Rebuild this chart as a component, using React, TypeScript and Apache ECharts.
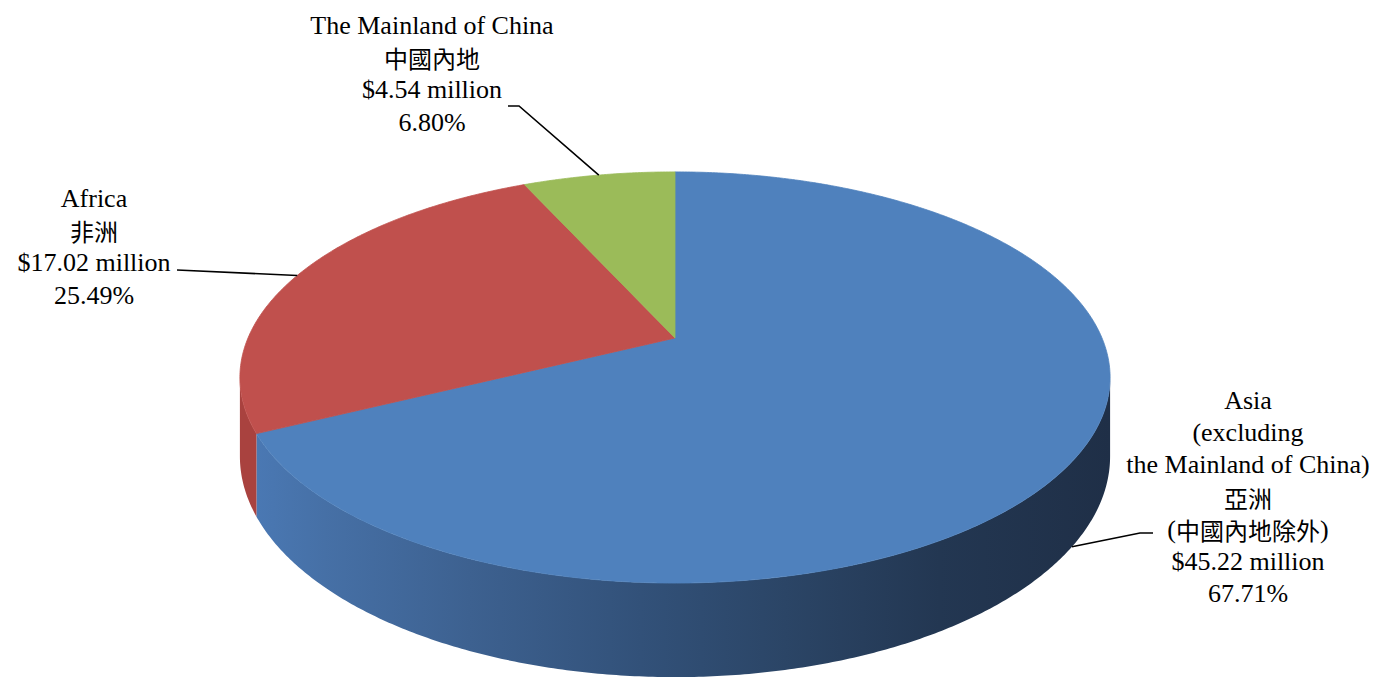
import React, { useEffect, useRef } from "react";
import * as echarts from "echarts";

// ---- data ----
const namesEn: string[][] = [
  ["Asia", "(excluding", "the Mainland of China)"],
  ["Africa"],
  ["The Mainland of China"],
];
const namesZh: string[] = ["亞洲\n(中國內地除外)", "非洲", "中國內地"];
const valuesMillion: number[] = [45.22, 17.02, 4.54];
const topColors: string[] = ["#4F81BD", "#C0504D", "#9BBB59"];

// ---- layout (positions only) ----
const PIE = { cx: 675, cy: 338, fx: 427, gy: 198, persp: 0.192, thick: 76 };
const labelBoxes = [
  { x: 1248, y: 384, leader: [[1153, 533], [1140, 533]] },
  { x: 94, y: 182, leader: [[177, 270]] },
  { x: 432, y: 9, leader: [[508, 106], [519, 106]] },
];

const DEG = Math.PI / 180;
const total = valuesMillion.reduce((a, b) => a + b, 0);

function proj(thetaDeg: number, down: number): number[] {
  const t = thetaDeg * DEG;
  const u = Math.cos(t);
  const v = Math.sin(t);
  const d = 1 + PIE.persp * v;
  return [
    PIE.cx + (PIE.fx * u) / d,
    PIE.cy - (PIE.gy * v) / d + (down * PIE.thick) / d,
  ];
}

function arcPoints(a1: number, a2: number, down: number): number[][] {
  const pts: number[][] = [];
  const n = Math.max(2, Math.ceil((a1 - a2) / 0.5));
  for (let i = 0; i <= n; i++) pts.push(proj(a1 - ((a1 - a2) * i) / n, down));
  return pts;
}

function richLine(line: string): string {
  const out: string[] = [];
  let cur = "";
  let curZh: boolean | null = null;
  for (const ch of line) {
    const zh = /[\u3000-\u9fff\uff00-\uffef]/.test(ch);
    if (curZh === null || zh === curZh) {
      cur += ch;
      curZh = zh;
    } else {
      out.push(`{${curZh ? "zh" : "en"}|${cur}}`);
      cur = ch;
      curZh = zh;
    }
  }
  if (cur) out.push(`{${curZh ? "zh" : "en"}|${cur}}`);
  return out.join("");
}

const SIN_C = Math.asin(PIE.persp) / DEG;
const VIS_LO = -180 + SIN_C;
const VIS_HI = -SIN_C;

export default function App() {
  const ref = useRef<HTMLDivElement>(null);
  useEffect(() => {
    if (!ref.current) return;
    const chart = echarts.init(ref.current, undefined, { renderer: "svg" });

    const cum: number[] = [];
    let acc = 0;
    valuesMillion.forEach((v) => {
      cum.push(acc);
      acc += v;
    });

    const renderItem = (params: any) => {
      const i = params.dataIndex;
      const v = valuesMillion[i];
      const a1 = 90 - (360 * cum[i]) / total;
      const a2 = a1 - (360 * v) / total;
      const children: any[] = [];

      for (let k = -1; k <= 1; k++) {
        const lo = Math.max(a2, VIS_LO + 360 * k);
        const hi = Math.min(a1, VIS_HI + 360 * k);
        if (lo < hi) {
          const topArc = arcPoints(hi, lo, 0);
          const botArc = arcPoints(hi, lo, 1).reverse();
          const fill =
            i === 0
              ? new echarts.graphic.LinearGradient(0, 0, 1, 0, [
                  { offset: 0, color: "#4a78b3" },
                  { offset: 0.08, color: "#4670a6" },
                  { offset: 0.25, color: "#3d6190" },
                  { offset: 0.45, color: "#325179" },
                  { offset: 0.62, color: "#2b4566" },
                  { offset: 0.8, color: "#233752" },
                  { offset: 1, color: "#1f2f47" },
                ])
              : i === 1
              ? "#a9423f"
              : "#7f9a48";
          children.push({
            type: "polygon",
            z2: 1,
            shape: { points: topArc.concat(botArc) },
            style: { fill, stroke: null },
          });
        }
      }

      const top = [[PIE.cx, PIE.cy]].concat(arcPoints(a1, a2, 0));
      children.push({
        type: "polygon",
        z2: 2,
        shape: { points: top },
        style: { fill: topColors[i], stroke: topColors[i], lineWidth: 0.8 },
      });

      const mid = (a1 + a2) / 2;
      let m = mid;
      while (m < -180) m += 360;
      while (m > 180) m -= 360;
      const front = m > VIS_LO && m < VIS_HI;
      const anchor = proj(front ? mid - 2 : mid, front ? 1 : 0);
      const box = labelBoxes[i];
      children.push({
        type: "polyline",
        z2: 3,
        shape: { points: box.leader.concat([anchor]) },
        style: { stroke: "#000", lineWidth: 1.6, fill: null },
      });

      const lines = namesEn[i]
        .concat(namesZh[i].split("\n"))
        .concat([
          "$" + v.toFixed(2) + " million",
          ((v / total) * 100).toFixed(2) + "%",
        ]);
      children.push({
        type: "text",
        z2: 4,
        x: box.x,
        y: box.y,
        style: {
          text: lines.map(richLine).join("\n"),
          align: "center",
          verticalAlign: "top",
          fill: "#000",
          rich: {
            en: {
              fontFamily: "'Liberation Serif', 'Times New Roman', serif",
              fontSize: 26,
              lineHeight: 32.3,
              fill: "#000",
            },
            zh: {
              fontFamily: "'Noto Sans CJK TC', 'Noto Sans CJK SC', sans-serif",
              fontSize: 24,
              lineHeight: 32.3,
              fill: "#000",
            },
          },
        },
      });

      return { type: "group", children };
    };

    chart.setOption({
      animation: false,
      backgroundColor: "#ffffff",
      series: [
        {
          type: "custom",
          coordinateSystem: "none",
          renderItem,
          data: valuesMillion.map((v, i) => ({ value: v, name: namesEn[i].join(" ") })),
        },
      ],
    });
    return () => chart.dispose();
  }, []);

  return (
    <div
      ref={ref}
      style={{ position: "fixed", left: 0, top: 0, width: 1377, height: 680 }}
    />
  );
}
